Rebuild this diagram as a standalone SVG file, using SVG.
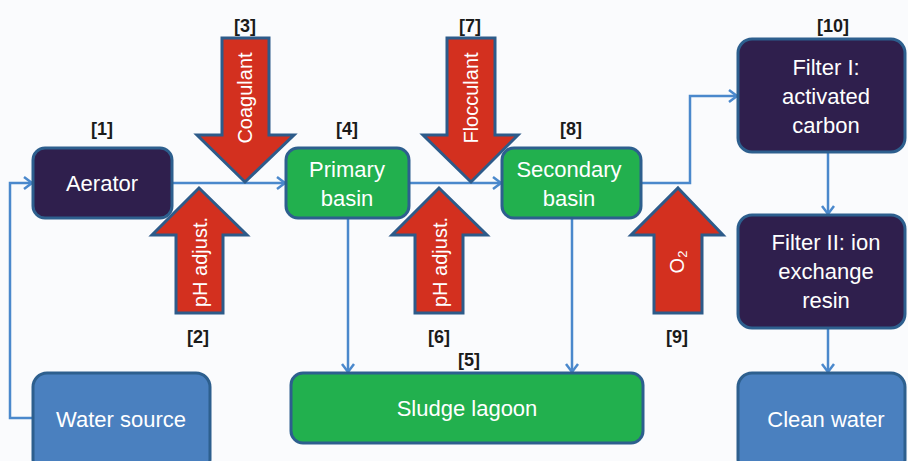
<svg xmlns="http://www.w3.org/2000/svg" width="908" height="461" viewBox="0 0 908 461">
<style>
.bg{fill:#fafbfd}
.box{stroke:#2d5f8e;stroke-width:3}
.navy{fill:#2f1f4d}
.green{fill:#22b04e}
.blue{fill:#4a80bf}
.nt{font-family:"Liberation Sans",Arial,sans-serif;font-size:22px;fill:#ffffff;text-anchor:middle}
.lbl{font-family:"Liberation Sans",Arial,sans-serif;font-size:18px;font-weight:bold;fill:#1a1a1a;text-anchor:middle}
.big{fill:#d3301f;stroke:#2d5b8a;stroke-width:3;stroke-linejoin:miter}
.at{font-family:"Liberation Sans",Arial,sans-serif;font-size:20px;fill:#ffffff;text-anchor:middle;dominant-baseline:central}
.con{fill:none;stroke:#4a88cc;stroke-width:2.5;marker-end:url(#ah)}
</style>
<defs>
<marker id="ah" markerUnits="userSpaceOnUse" markerWidth="14" markerHeight="14" refX="10" refY="7" orient="auto">
<path d="M2,1 L10,7 L2,13" fill="none" stroke="#4a88cc" stroke-width="2.5"/>
</marker>
</defs>
<rect class="bg" x="0" y="0" width="908" height="461"/>

<g id="connectors">
<path class="con" d="M33,418 H10 V183 H32"/>
<path class="con" d="M172,183 H285"/>
<path class="con" d="M409,183 H501"/>
<path class="con" d="M641,183 H690 V96 H737"/>
<path class="con" d="M828,152 V214"/>
<path class="con" d="M828,328 V372"/>
<path class="con" d="M348,218 V372"/>
<path class="con" d="M572,218 V372"/>
</g>

<g id="aerator">
<rect class="box navy" x="33" y="148" width="139" height="70" rx="12"/>
<text class="nt" x="102" y="191">Aerator</text>
</g>
<g id="primary-basin">
<rect class="box green" x="286" y="148" width="123" height="70" rx="12"/>
<text class="nt" x="347" y="177">Primary</text>
<text class="nt" x="347" y="206">basin</text>
</g>
<g id="secondary-basin">
<rect class="box green" x="502" y="148" width="139" height="70" rx="12"/>
<text class="nt" x="569" y="177">Secondary</text>
<text class="nt" x="569" y="206">basin</text>
</g>
<g id="filter-1">
<rect class="box navy" x="738" y="39" width="167" height="113" rx="14"/>
<text class="nt" x="826" y="75">Filter I:</text>
<text class="nt" x="826" y="104">activated</text>
<text class="nt" x="826" y="133">carbon</text>
</g>
<g id="filter-2">
<rect class="box navy" x="738" y="215" width="167" height="113" rx="14"/>
<text class="nt" x="826" y="250">Filter II: ion</text>
<text class="nt" x="826" y="279">exchange</text>
<text class="nt" x="826" y="308">resin</text>
</g>
<g id="water-source">
<rect class="box blue" x="33" y="373" width="177" height="100" rx="14"/>
<text class="nt" x="121" y="427">Water source</text>
</g>
<g id="sludge-lagoon">
<rect class="box green" x="291" y="373" width="352" height="70" rx="12"/>
<text class="nt" x="467" y="416">Sludge lagoon</text>
</g>
<g id="clean-water">
<rect class="box blue" x="738" y="373" width="167" height="100" rx="14"/>
<text class="nt" x="826" y="427">Clean water</text>
</g>

<g id="coagulant">
<polygon class="big" points="222,38 269,38 269,135 294,135 245,182 197,135 222,135"/>
<text class="at" x="245" y="98" transform="rotate(-90 245 98)">Coagulant</text>
</g>
<g id="ph-adjust-2">
<polygon class="big" points="199,188 247,235 223,235 223,313 176,313 176,235 152,235"/>
<text class="at" x="200" y="262" transform="rotate(-90 200 262)">pH adjust.</text>
</g>
<g id="flocculant">
<polygon class="big" points="447,38 495,38 495,135 518,135 471,182 423,135 447,135"/>
<text class="at" x="471" y="98" transform="rotate(-90 471 98)">Flocculant</text>
</g>
<g id="ph-adjust-6">
<polygon class="big" points="439,188 487,235 463,235 463,313 415,313 415,235 392,235"/>
<text class="at" x="440" y="262" transform="rotate(-90 440 262)">pH adjust.</text>
</g>
<g id="oxygen">
<polygon class="big" points="678,188 723,235 702,235 702,313 654,313 654,235 631,235"/>
<text class="at" x="677" y="262" transform="rotate(-90 677 262)">O<tspan font-size="13" dy="5">2</tspan></text>
</g>

<g id="labels">
<text class="lbl" x="102" y="135">[1]</text>
<text class="lbl" x="198" y="343">[2]</text>
<text class="lbl" x="245" y="32">[3]</text>
<text class="lbl" x="347" y="135">[4]</text>
<text class="lbl" x="469" y="366">[5]</text>
<text class="lbl" x="439" y="343">[6]</text>
<text class="lbl" x="470" y="32">[7]</text>
<text class="lbl" x="571" y="135">[8]</text>
<text class="lbl" x="677" y="343">[9]</text>
<text class="lbl" x="833" y="32">[10]</text>
</g>
</svg>
